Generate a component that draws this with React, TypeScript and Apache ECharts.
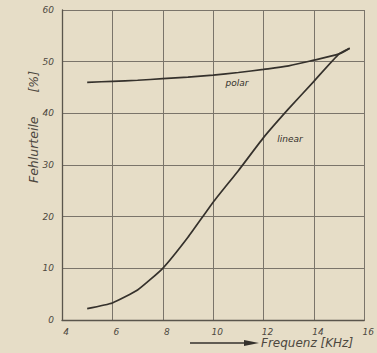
import React, { useEffect, useRef } from "react";
import * as echarts from "echarts";

const xTicks = [4, 6, 8, 10, 12, 14, 16];
const yTicks = [0, 10, 20, 30, 40, 50, 60];
const polarFreq = [5, 6, 7, 8, 9, 10, 11, 12, 13, 14, 15, 15.42];
const polarValues = [46.0, 46.2, 46.4, 46.7, 47.0, 47.4, 47.9, 48.5, 49.2, 50.3, 51.5, 52.6];
const linearFreq = [5, 6, 7, 8, 9, 10, 11, 12, 13, 14, 15, 15.42];
const linearValues = [2.2, 3.3, 5.8, 10, 16, 22.8, 28.9, 35.3, 40.9, 46.2, 51.5, 52.6];

const ink = "#35312c";
const gridInk = "#7a746a";
const labelInk = "#4d4840";
const bg = "#e6ddc7";
const font = "DejaVu Sans";

export default function App() {
  const ref = useRef<HTMLDivElement>(null);
  useEffect(() => {
    if (!ref.current) return;
    const chart = echarts.init(ref.current, null, { renderer: "svg" });
    const pair = (xs: number[], ys: number[]) => xs.map((x, i) => [x, ys[i]]);
    chart.setOption({
      animation: false,
      backgroundColor: bg,
      grid: { left: 62, right: 5, top: 10, bottom: 33, show: false },
      xAxis: {
        type: "value",
        min: xTicks[0],
        max: xTicks[xTicks.length - 1],
        interval: 2,
        axisLine: { show: true, lineStyle: { color: "#5a554c", width: 1.3 } },
        axisTick: { show: false },
        splitLine: { show: true, lineStyle: { color: gridInk, width: 1 } },
        axisLabel: {
          color: labelInk,
          fontFamily: font,
          fontStyle: "italic",
          fontSize: 9,
          margin: 7,
          padding: [0, 0, 0, 8],
        },
      },
      yAxis: {
        type: "value",
        min: yTicks[0],
        max: yTicks[yTicks.length - 1],
        interval: 10,
        axisLine: { show: true, lineStyle: { color: "#5a554c", width: 1.3 } },
        axisTick: { show: false },
        splitLine: { show: true, lineStyle: { color: gridInk, width: 1 } },
        axisLabel: {
          color: labelInk,
          fontFamily: font,
          fontStyle: "italic",
          fontSize: 9,
          margin: 8,
        },
      },
      series: [
        {
          name: "polar",
          type: "line",
          data: pair(polarFreq, polarValues),
          smooth: 0.3,
          symbol: "none",
          lineStyle: { color: ink, width: 1.7 },
        },
        {
          name: "linear",
          type: "line",
          data: pair(linearFreq, linearValues),
          smooth: 0.15,
          symbol: "none",
          lineStyle: { color: ink, width: 1.7 },
        },
      ],
      graphic: [
        {
          type: "text",
          x: 237,
          y: 83,
          style: { text: "polar", font: `italic 9px '${font}'`, fill: ink, align: "center", verticalAlign: "middle" },
        },
        {
          type: "text",
          x: 290,
          y: 139,
          style: { text: "linear", font: `italic 9px '${font}'`, fill: ink, align: "center", verticalAlign: "middle" },
        },
        {
          type: "text",
          x: 33,
          y: 127,
          rotation: Math.PI / 2,
          style: {
            text: "Fehlurteile      [%]",
            font: `italic 12.5px '${font}'`,
            fill: labelInk,
            align: "center",
            verticalAlign: "middle",
          },
        },
        {
          type: "line",
          shape: { x1: 190, y1: 343, x2: 250, y2: 343 },
          style: { stroke: ink, lineWidth: 1.3 },
        },
        {
          type: "polygon",
          shape: { points: [[244, 340], [259, 343], [244, 346]] },
          style: { fill: ink },
        },
        {
          type: "text",
          x: 261,
          y: 343,
          style: {
            text: "Frequenz [KHz]",
            font: `italic 12px '${font}'`,
            fill: labelInk,
            align: "left",
            verticalAlign: "middle",
          },
        },
      ],
    });
    return () => chart.dispose();
  }, []);
  return (
    <div
      ref={ref}
      style={{ position: "fixed", left: 0, top: 0, width: 377, height: 353 }}
    />
  );
}
